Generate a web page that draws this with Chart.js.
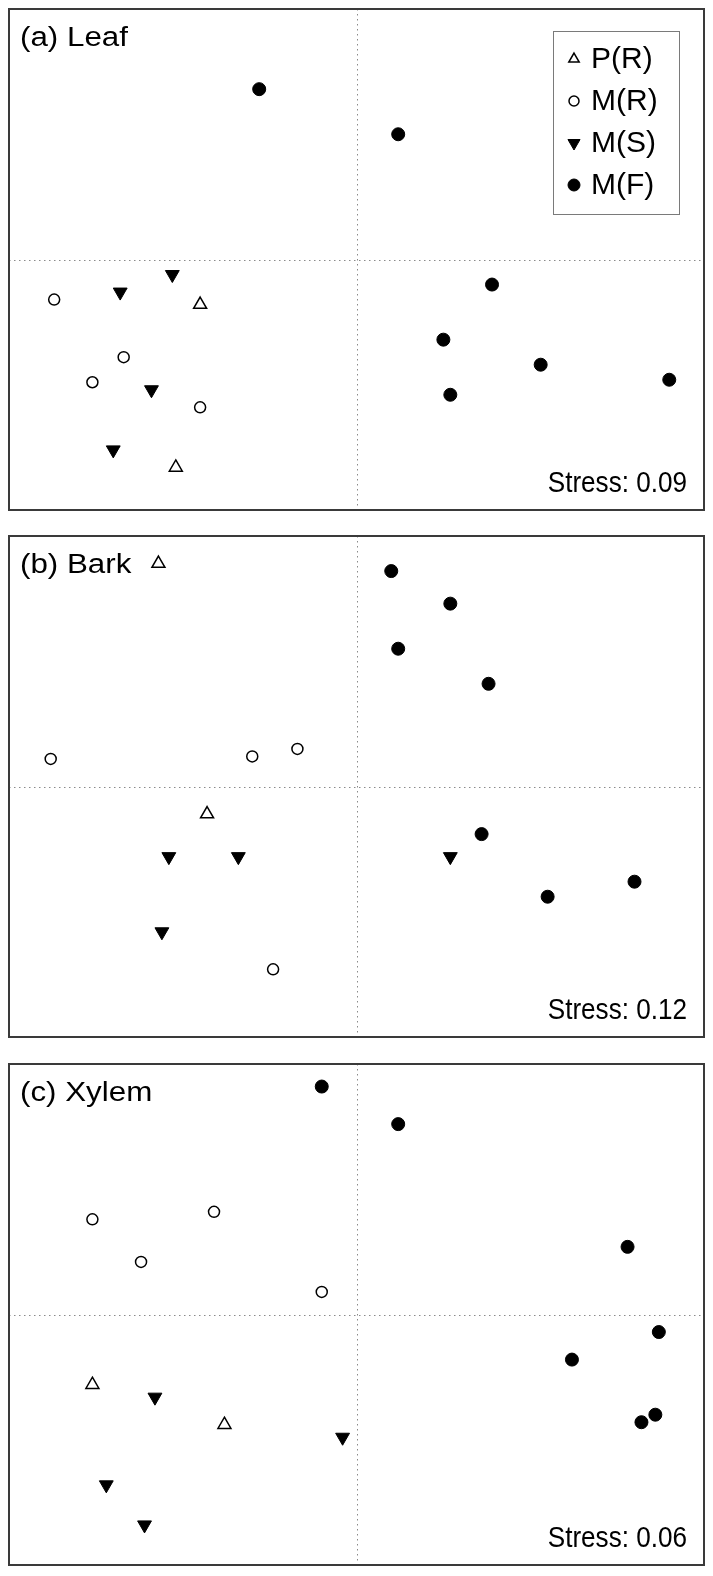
<!DOCTYPE html>
<html>
<head>
<meta charset="utf-8">
<script src="https://cdn.jsdelivr.net/npm/chart.js@4.4.1/dist/chart.umd.min.js"></script>
<style>
  body { margin: 0; background: #fff; }
  .panel { position: absolute; left: 0; width: 713px; height: 520px; }
</style>
</head>
<body>
<div class="panel" style="top:0px"><canvas id="leaf" width="713" height="520"></canvas></div>
<div class="panel" style="top:526px"><canvas id="bark" width="713" height="520"></canvas></div>
<div class="panel" style="top:1054px"><canvas id="xylem" width="713" height="520"></canvas></div>
<script>
// NMDS scores, axes centred on 0 (range -1..1)
const groups = ['P(R)', 'M(R)', 'M(S)', 'M(F)'];

/* (a) Leaf */
const leafPR = [[-0.45, -0.18], [-0.52, -0.83]];
const leafMR = [[-0.87, -0.16], [-0.67, -0.39], [-0.76, -0.49], [-0.45, -0.59]];
const leafMS = [[-0.53, -0.06], [-0.68, -0.13], [-0.59, -0.52], [-0.70, -0.76]];
const leafMF = [[-0.28, 0.68], [0.12, 0.50], [0.39, -0.10], [0.25, -0.32], [0.53, -0.42], [0.27, -0.54], [0.90, -0.48]];

/* (b) Bark */
const barkPR = [[-0.57, 0.89], [-0.43, -0.11]];
const barkMR = [[-0.88, 0.11], [-0.30, 0.12], [-0.17, 0.15], [-0.24, -0.73]];
const barkMS = [[-0.54, -0.28], [-0.34, -0.28], [-0.56, -0.58], [0.27, -0.28]];
const barkMF = [[0.10, 0.86], [0.27, 0.73], [0.12, 0.55], [0.38, 0.41], [0.36, -0.19], [0.55, -0.44], [0.80, -0.38]];

/* (c) Xylem */
const xylemPR = [[-0.76, -0.28], [-0.38, -0.44]];
const xylemMR = [[-0.76, 0.38], [-0.41, 0.41], [-0.62, 0.21], [-0.10, 0.09]];
const xylemMS = [[-0.58, -0.33], [-0.04, -0.49], [-0.72, -0.68], [-0.61, -0.84]];
const xylemMF = [[-0.10, 0.91], [0.12, 0.76], [0.78, 0.27], [0.87, -0.07], [0.62, -0.18], [0.86, -0.40], [0.82, -0.43]];

const stressLeaf = 'Stress: 0.09';
const stressBark = 'Stress: 0.12';
const stressXylem = 'Stress: 0.06';

// marker styles per group
const markers = [
  { pointStyle: 'triangle', rotation: 0,   backgroundColor: '#fff', borderColor: '#000', borderWidth: 1.5, radius: 7.5 },
  { pointStyle: 'circle',   rotation: 0,   backgroundColor: '#fff', borderColor: '#000', borderWidth: 1.5, radius: 5.5 },
  { pointStyle: 'triangle', rotation: 180, backgroundColor: '#000', borderColor: '#000', borderWidth: 1,   radius: 8 },
  { pointStyle: 'circle',   rotation: 0,   backgroundColor: '#000', borderColor: '#000', borderWidth: 1,   radius: 6.5 }
];

function toPoints(arr) {
  return arr.map(p => ({ x: p[0], y: p[1] }));
}

function drawMarker(ctx, m, x, y, r) {
  ctx.save();
  ctx.fillStyle = m.backgroundColor;
  ctx.strokeStyle = m.borderColor;
  ctx.lineWidth = m.borderWidth;
  ctx.beginPath();
  if (m.pointStyle === 'circle') {
    ctx.arc(x, y, r, 0, Math.PI * 2);
  } else {
    let rad = m.rotation * Math.PI / 180;
    for (let i = 0; i < 3; i++) {
      const px = x + Math.sin(rad) * r, py = y - Math.cos(rad) * r;
      if (i === 0) ctx.moveTo(px, py); else ctx.lineTo(px, py);
      rad += Math.PI * 2 / 3;
    }
    ctx.closePath();
  }
  ctx.fill();
  ctx.stroke();
  ctx.restore();
}

// text squeezed/stretched sideways like in the original figure
function stretchedText(ctx, text, x, y, sx, align) {
  ctx.save();
  ctx.translate(x, y);
  ctx.scale(sx, 1);
  ctx.textAlign = align;
  ctx.fillText(text, 0, 0);
  ctx.restore();
}

/* frame, dotted zero lines, panel label, stress, legend */
const framePlugin = {
  id: 'frame',
  beforeDatasetsDraw(chart, args, opts) {
    const { ctx, chartArea: a, scales } = chart;
    const x0 = Math.round(scales.x.getPixelForValue(0)) + 0.5;
    const y0 = Math.round(scales.y.getPixelForValue(0)) + 0.5;
    ctx.save();
    ctx.strokeStyle = '#8a8a8a';
    ctx.lineWidth = 1;
    ctx.setLineDash([1.5, 3.5]);
    ctx.beginPath();
    ctx.moveTo(x0, a.top); ctx.lineTo(x0, a.bottom);
    ctx.moveTo(a.left, y0); ctx.lineTo(a.right, y0);
    ctx.stroke();
    ctx.restore();
  },
  afterDraw(chart, args, opts) {
    const { ctx, chartArea: a } = chart;
    ctx.save();
    ctx.strokeStyle = '#3a3a3a';
    ctx.lineWidth = 2;
    ctx.strokeRect(a.left, a.top, a.right - a.left, a.bottom - a.top);

    ctx.fillStyle = '#000';
    ctx.textBaseline = 'alphabetic';
    ctx.font = '27px "Liberation Sans", Arial, sans-serif';
    stretchedText(ctx, opts.label, a.left + 11, a.top + 37, 1.16, 'left');
    ctx.font = '29px "Liberation Sans", Arial, sans-serif';
    stretchedText(ctx, opts.stress, a.right - 17, a.bottom - 18, 0.9, 'right');

    if (opts.legend) {
      const bx = a.right - 151, by = a.top + 22, bw = 126, bh = 183;
      ctx.strokeStyle = '#7a7a7a';
      ctx.lineWidth = 1;
      ctx.strokeRect(bx + 0.5, by + 0.5, bw, bh);
      ctx.font = '30px "Liberation Sans", Arial, sans-serif';
      ctx.textAlign = 'left';
      ctx.textBaseline = 'middle';
      const sizes = [6, 5, 7, 6];
      chart.data.datasets.forEach((ds, i) => {
        const cy = by + 28 + i * 42;
        drawMarker(ctx, markers[i], bx + 21, cy, sizes[i]);
        ctx.fillStyle = '#000';
        ctx.fillText(ds.label, bx + 38, cy + 1);
      });
    }
    ctx.restore();
  }
};

function makeChart(id, sets, label, stress, legend, pad) {
  return new Chart(document.getElementById(id), {
    type: 'scatter',
    data: {
      datasets: sets.map((s, i) => ({
        label: groups[i],
        data: toPoints(s),
        pointStyle: markers[i].pointStyle,
        rotation: markers[i].rotation,
        backgroundColor: markers[i].backgroundColor,
        borderColor: markers[i].borderColor,
        borderWidth: markers[i].borderWidth,
        pointRadius: markers[i].radius,
        clip: false
      }))
    },
    options: {
      responsive: false,
      animation: false,
      events: [],
      layout: { padding: pad },
      scales: {
        x: { type: 'linear', min: -1, max: 1, display: false },
        y: { type: 'linear', min: -1, max: 1, display: false }
      },
      plugins: {
        legend: { display: false },
        tooltip: { enabled: false },
        frame: { label: label, stress: stress, legend: legend }
      }
    },
    plugins: [framePlugin]
  });
}

makeChart('leaf', [leafPR, leafMR, leafMS, leafMF], '(a) Leaf', stressLeaf, true,
  { left: 7, right: 7, top: 7, bottom: 10 });
makeChart('bark', [barkPR, barkMR, barkMS, barkMF], '(b) Bark', stressBark, false,
  { left: 7, right: 7, top: 10, bottom: 6 });
makeChart('xylem', [xylemPR, xylemMR, xylemMS, xylemMF], '(c) Xylem', stressXylem, false,
  { left: 7, right: 7, top: 10, bottom: 5 });
</script>
</body>
</html>
